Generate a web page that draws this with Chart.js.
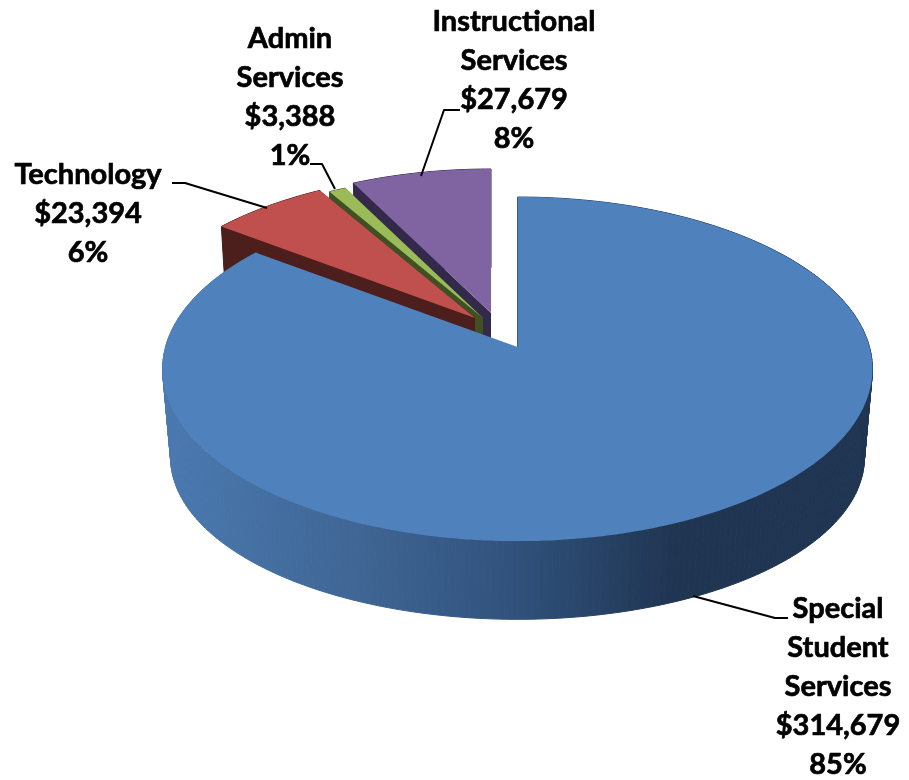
<!DOCTYPE html>
<html>
<head>
<meta charset="utf-8">
<script src="https://cdn.jsdelivr.net/npm/chart.js@4"></script>
<style>
html,body{margin:0;padding:0;background:#fff}
canvas{display:block}
</style>
</head>
<body>
<canvas id="c" width="909" height="780"></canvas>
<script>
const categories = ["Special Student Services", "Technology", "Admin Services", "Instructional Services"];
const amounts = [314679, 23394, 3388, 27679];
const amountLabels = ["$314,679", "$23,394", "$3,388", "$27,679"];
const percentLabels = ["85%", "6%", "1%", "8%"];
const labelLines = [["Special", "Student", "Services"], ["Technology"], ["Admin", "Services"], ["Instructional", "Services"]];

const topFaces = ["#4f81bd", "#c0504d", "#9bbb59", "#8064a2"];
const walls = [null, "#4d1f1c", "#3f5023", "#33294a"];

// camera: perspective of the two pie planes
const K = 0.128;
const topPlane = {x: 517.5, y: 347, R: 352, S: 169.2};
const basePlane = {x: 517.5, y: 437, R: 344, S: 159};
// explosion of each slice (px from the blue apex) and its radius factor
const explode = [{dx: 0, dy: 0, s: 1}, {dx: -42.5, dy: -29, s: 0.97}, {dx: -34.5, dy: -29, s: 0.96}, {dx: -26.5, dy: -34, s: 0.96}];
// label anchors
const labelPos = [{x: 838, y: 609}, {x: 88, y: 175}, {x: 290, y: 39}, {x: 514, y: 22}];
const LINE = 39;
const leaders = [
  [[693, 596], [775, 618], [788, 618]],
  [[172, 183], [185, 183], [267, 208]],
  [[310, 164], [322, 164], [335, 189]],
  [[460, 110], [444, 110], [421, 176]]
];

function proj(pl, ex, th, r) {
  const u = r * Math.sin(th), v = -r * Math.cos(th), w = 1 - K * v;
  return [pl.x + ex.dx + ex.s * pl.R * u / w, pl.y + ex.dy + ex.s * pl.S * v / w];
}
function arcPts(pl, ex, a, b) {
  const n = Math.max(2, Math.ceil((b - a) / (Math.PI / 180))), out = [];
  for (let i = 0; i <= n; i++) out.push(proj(pl, ex, a + (b - a) * i / n, 1));
  return out;
}
function poly(ctx, pts, fill) {
  ctx.beginPath();
  pts.forEach((p, i) => i ? ctx.lineTo(p[0], p[1]) : ctx.moveTo(p[0], p[1]));
  ctx.closePath();
  ctx.fillStyle = fill;
  ctx.fill();
}

const pie3d = {
  id: "pie3d",
  beforeDatasetsDraw(chart) {
    const ctx = chart.ctx, arcs = chart.getDatasetMeta(0).data;
    const grad = ctx.createLinearGradient(165, 0, 870, 0);
    grad.addColorStop(0, "#4a79b0");
    grad.addColorStop(0.27, "#3f6695");
    grad.addColorStop(0.5, "#30517b");
    grad.addColorStop(0.72, "#1f3552");
    grad.addColorStop(1, "#1f3552");
    ctx.save();
    for (let i = arcs.length - 1; i >= 0; i--) {
      const a = arcs[i].startAngle + Math.PI / 2, b = arcs[i].endAngle + Math.PI / 2, ex = explode[i];
      const t = arcPts(topPlane, ex, a, b), g = arcPts(basePlane, ex, a, b);
      const wall = walls[i] || grad;
      ctx.strokeStyle = wall; ctx.lineWidth = 1;
      if (walls[i]) {
        const apT = proj(topPlane, ex, 0, 0), apB = proj(basePlane, ex, 0, 0);
        poly(ctx, [apT, t[0], g[0], apB], wall);
        poly(ctx, [apT, t[t.length - 1], g[g.length - 1], apB], wall);
      }
      for (let k = 0; k < t.length - 1; k++) {
        poly(ctx, [t[k], t[k + 1], g[k + 1], g[k]], wall);
        ctx.stroke();
      }
      const apex = proj(topPlane, ex, 0, 0);
      poly(ctx, [apex].concat(t), topFaces[i]);
      if (i === 0) {
        ctx.beginPath();
        ctx.moveTo(t[0][0], t[0][1]); ctx.lineTo(apex[0], apex[1]);
        ctx.strokeStyle = "#3b5f8c"; ctx.stroke();
      }
    }
    ctx.restore();
    return false;
  },
  afterDraw(chart) {
    const ctx = chart.ctx;
    ctx.save();
    ctx.strokeStyle = "#000"; ctx.lineWidth = 2; ctx.lineJoin = "round";
    leaders.forEach(l => {
      ctx.beginPath();
      l.forEach((p, i) => i ? ctx.lineTo(p[0], p[1]) : ctx.moveTo(p[0], p[1]));
      ctx.stroke();
    });
    ctx.fillStyle = "#000";
    ctx.font = "700 29px Lato";
    ctx.lineWidth = 0.7;
    ctx.textAlign = "center"; ctx.textBaseline = "middle";
    labelLines.forEach((lines, i) => {
      lines.concat([amountLabels[i], percentLabels[i]]).forEach((s, k) => {
        ctx.fillText(s, labelPos[i].x, labelPos[i].y + k * LINE);
        ctx.strokeText(s, labelPos[i].x, labelPos[i].y + k * LINE);
      });
    });
    ctx.restore();
  }
};

new Chart(document.getElementById("c"), {
  type: "pie",
  data: {labels: categories, datasets: [{data: amounts, backgroundColor: topFaces, borderWidth: 0}]},
  options: {
    responsive: false,
    animation: false,
    plugins: {legend: {display: false}, title: {display: false}, tooltip: {enabled: false}}
  },
  plugins: [pie3d]
});
</script>
</body>
</html>
